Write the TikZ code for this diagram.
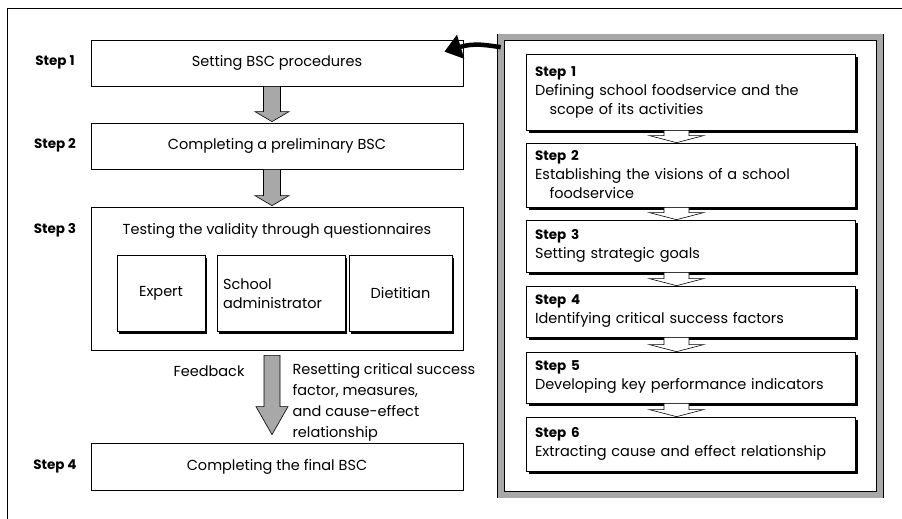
\documentclass[tikz,border=0pt]{standalone}
\usepackage{fontspec}
\setmainfont{Poppins}
\usepackage{tikz}
\usetikzlibrary{arrows.meta, positioning, calc, shadows}

\definecolor{hatchgray}{HTML}{A8A8A8}

% fat block arrow: style, from, to, shaft half, head half, head length
\newcommand{\fatarrow}[6]{%
  \path[#1] let \p1=(#2), \p2=(#3) in
    (\x1-#4pt,\y1) -- (\x1+#4pt,\y1) -- (\x1+#4pt,\y2+#6pt) -- (\x1+#5pt,\y2+#6pt)
    -- (\x1,\y2) -- (\x1-#5pt,\y2+#6pt) -- (\x1-#4pt,\y2+#6pt) -- cycle;}
\newcommand{\stepfont}{\fontsize{13.5}{15}\selectfont\bfseries}

\tikzset{
  lbox/.style={draw, line width=0.7pt, minimum width=372pt, minimum height=46pt,
               inner sep=0pt, font=\fontsize{14.5}{17}\selectfont},
  ibox/.style={draw, line width=0.7pt, fill=white, inner sep=0pt, align=left,
               minimum height=76pt, font=\fontsize{14.5}{19}\selectfont,
               drop shadow={shadow xshift=2pt, shadow yshift=-2pt, fill=black, opacity=1}},
  rbox/.style={draw, line width=0.7pt, fill=white, text width=311pt, align=left,
               minimum width=329pt, inner xsep=9pt, inner ysep=0pt,
               font=\fontsize{14.5}{19}\selectfont,
               drop shadow={shadow xshift=3pt, shadow yshift=-3pt, fill=black, opacity=1}},
  steplabel/.style={font=\stepfont},
  greyarrow/.style={draw=black, line width=0.6pt, fill=hatchgray},
  whitearrow/.style={draw=black, line width=0.6pt, fill=white},
}

\begin{document}
\begin{tikzpicture}[x=1pt, y=-1pt]
  \useasboundingbox (0,0) rectangle (902,519);
  % Outer frame (cut off at right and bottom)
  \draw[line width=0.7pt] (7,519) -- (7,8) -- (902,8);

  % Left column
  \node[lbox] (lbox1) at (277,63) {Setting BSC procedures};
  \node[lbox] (lbox2) at (277,146) {Completing a preliminary BSC};
  \node[lbox, minimum height=143pt] (lbox3) at (277,278.5) {};
  \node[lbox, minimum height=47pt] (lbox4) at (277,466.5) {Completing the final BSC};

  \node[font=\fontsize{14.5}{17}\selectfont] (title3) at (277,231)
    {Testing the validity through questionnaires};
  \node[ibox, minimum width=88pt] (expert) at (161,293.5) {Expert};
  \node[ibox, minimum width=128pt, text width=116pt] (admin) at (281,293.5)
    {School\\administrator};
  \node[ibox, minimum width=103pt, align=center] (dietitian) at (400.5,293.5) {Dietitian};

  % Step labels
  \node[steplabel] (lstep1) at (55,62) {Step 1};
  \node[steplabel] (lstep2) at (55,145) {Step 2};
  \node[steplabel] (lstep3) at (55,230) {Step 3};
  \node[steplabel] (lstep4) at (55,466) {Step 4};

  % Grey arrows
  \fatarrow{greyarrow}{$(lbox1.south)+(-5,0)$}{$(lbox2.north)+(-5,-1)$}{8.5}{17}{10}
  \fatarrow{greyarrow}{$(lbox2.south)+(-5,0)$}{$(lbox3.north)+(-5,-1)$}{8.5}{17}{10}
  \fatarrow{greyarrow}{$(lbox3.south)+(-5,5)$}{$(lbox4.north)+(-5,-8)$}{8}{16}{28}

  % Feedback texts
  \node[font=\fontsize{14.5}{17}\selectfont] (feedback) at (209,371) {Feedback};
  \node[font=\fontsize{14.5}{21}\selectfont, align=left, anchor=west] (resetting) at (289,402)
    {Resetting critical success\\factor, measures,\\and cause-effect\\relationship};

  % Right panel
  \node[draw=black, line width=0.6pt, double=hatchgray, double distance=6pt,
        minimum width=379pt, minimum height=457pt] (panel) at (690.5,266) {};

  \node[rbox, minimum height=76pt] (rbox1) at (690.5,92)
    {{\stepfont Step 1}\\Defining school foodservice and the\\\hspace*{1em}scope of its activities};
  \node[rbox, minimum height=64pt] (rbox2) at (690.5,175)
    {{\stepfont Step 2}\\Establishing the visions of a school\\\hspace*{1em}foodservice};
  \node[rbox, minimum height=52pt] (rbox3) at (690.5,246)
    {{\stepfont Step 3}\\Setting strategic goals};
  \node[rbox, minimum height=51pt] (rbox4) at (690.5,311.5)
    {{\stepfont Step 4}\\Identifying critical success factors};
  \node[rbox, minimum height=51pt] (rbox5) at (690.5,377.5)
    {{\stepfont Step 5}\\Developing key performance indicators};
  \node[rbox, minimum height=54pt] (rbox6) at (690.5,444)
    {{\stepfont Step 6}\\Extracting cause and effect relationship};

  % White arrows
  \foreach \a/\b in {rbox1/rbox2, rbox2/rbox3, rbox3/rbox4, rbox4/rbox5, rbox5/rbox6} {
    \fatarrow{whitearrow}{$(\a.south)+(-14,0)$}{$(\b.north)+(-14,0)$}{12.5}{27}{7}
  }

  % Curved arrow back to step 1
  \coordinate (backstart) at ($(panel.north west)+(0,10)$);
  \coordinate (backtip) at ($(lbox1.north east)+(-19,12)$);
  \draw[line width=4.5pt, -{Triangle[length=17pt, width=24pt]}]
    (backstart) .. controls ($(backstart)+(-14,-2)$) and ($(backtip)+(30,-9)$) .. (backtip);
\end{tikzpicture}
\end{document}
